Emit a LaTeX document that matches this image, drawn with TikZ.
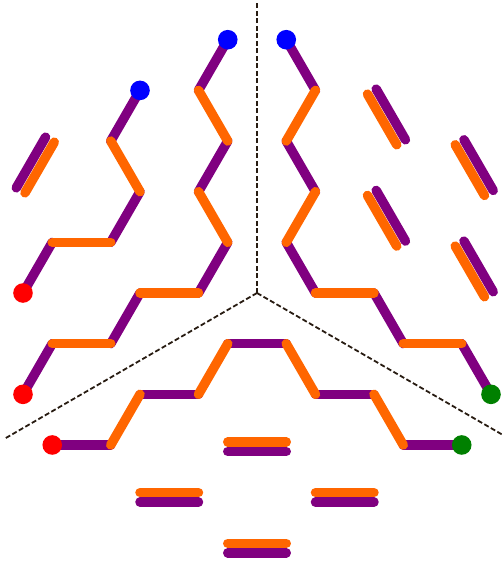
\documentclass[tikz,border=0pt]{standalone}
\definecolor{vio}{RGB}{128,0,128}
\definecolor{ora}{RGB}{255,102,0}
\definecolor{dsh}{RGB}{40,28,18}
\definecolor{dblue}{RGB}{0,0,255}
\definecolor{dred}{RGB}{255,0,0}
\definecolor{dgreen}{RGB}{0,128,0}
\begin{document}
\begin{tikzpicture}[x=58.5pt,y=-50.66pt,
  bondp/.style={draw=vio,line width=9.5pt,line cap=round},
  bondo/.style={draw=ora,line width=9.5pt,line cap=round},
  divider/.style={draw=dsh,line width=1.8pt,dash pattern=on 5pt off 2.5pt},
  enddot/.style={circle,inner sep=0pt,minimum size=19.6pt}]
\useasboundingbox (-4.3932,-5.7837) rectangle (4.1880,5.3494);

% centre and dividers
\coordinate (C) at (0,0);
\path (C) ++(90:290pt) coordinate (dtop);
\path (C) ++(210:290pt) coordinate (dleft);
\path (C) ++(330:290pt) coordinate (dright);
\draw[divider] (C) -- (dtop);
\draw[divider] (C) -- (dleft);
\draw[divider] (C) -- (dright);

% left chain A
\coordinate (A0) at (-0.5,-5);
\coordinate (A1) at (-1,-4);
\coordinate (A2) at (-0.5,-3);
\coordinate (A3) at (-1,-2);
\coordinate (A4) at (-0.5,-1);
\coordinate (A5) at (-1,0);
\coordinate (A6) at (-2,0);
\coordinate (A7) at (-2.5,1);
\coordinate (A8) at (-3.5,1);
\coordinate (A9) at (-4,2);
% left chain B
\coordinate (B0) at (-2,-4);
\coordinate (B1) at (-2.5,-3);
\coordinate (B2) at (-2,-2);
\coordinate (B3) at (-2.5,-1);
\coordinate (B4) at (-3.5,-1);
\coordinate (B5) at (-4,0);
% right chain R
\coordinate (R0) at (0.5,-5);
\coordinate (R1) at (1,-4);
\coordinate (R2) at (0.5,-3);
\coordinate (R3) at (1,-2);
\coordinate (R4) at (0.5,-1);
\coordinate (R5) at (1,0);
\coordinate (R6) at (2,0);
\coordinate (R7) at (2.5,1);
\coordinate (R8) at (3.5,1);
\coordinate (R9) at (4,2);
% bottom chain M
\coordinate (M0) at (-3.5,3);
\coordinate (M1) at (-2.5,3);
\coordinate (M2) at (-2,2);
\coordinate (M3) at (-1,2);
\coordinate (M4) at (-0.5,1);
\coordinate (M5) at (0.5,1);
\coordinate (M6) at (1,2);
\coordinate (M7) at (2,2);
\coordinate (M8) at (2.5,3);
\coordinate (M9) at (3.5,3);
% pairs
\coordinate (L1a) at (-3.5,-3); \coordinate (L1b) at (-4,-2);
\coordinate (P1a) at (2,-4);    \coordinate (P1b) at (2.5,-3);
\coordinate (P2a) at (2,-2);    \coordinate (P2b) at (2.5,-1);
\coordinate (P3a) at (3.5,-3);  \coordinate (P3b) at (4,-2);
\coordinate (P4a) at (3.5,-1);  \coordinate (P4b) at (4,0);
\coordinate (Q1a) at (-0.5,3);  \coordinate (Q1b) at (0.5,3);
\coordinate (Q2a) at (-2,4);    \coordinate (Q2b) at (-1,4);
\coordinate (Q3a) at (1,4);     \coordinate (Q3b) at (2,4);
\coordinate (Q4a) at (-0.5,5);  \coordinate (Q4b) at (0.5,5);

% purple bonds
\foreach \p/\q in {A0/A1,A2/A3,A4/A5,A6/A7,A8/A9,
                   B0/B1,B2/B3,B4/B5,
                   R0/R1,R2/R3,R4/R5,R6/R7,R8/R9,
                   M0/M1,M2/M3,M4/M5,M6/M7,M8/M9}
  \draw[bondp] (\p) -- (\q);
\draw[bondp] ([shift={(-6.7pt,3.85pt)}]L1a) -- ([shift={(-6.7pt,3.85pt)}]L1b);
\foreach \p/\q in {P1a/P1b,P2a/P2b,P3a/P3b,P4a/P4b}
  \draw[bondp] ([shift={(2.2pt,1.25pt)}]\p) -- ([shift={(2.2pt,1.25pt)}]\q);
\foreach \p/\q in {Q1a/Q1b,Q2a/Q2b,Q3a/Q3b,Q4a/Q4b}
  \draw[bondp] ([shift={(0pt,-6.5pt)}]\p) -- ([shift={(0pt,-6.5pt)}]\q);

% orange bonds
\foreach \p/\q in {A1/A2,A3/A4,A5/A6,A7/A8,
                   B1/B2,B3/B4,
                   R1/R2,R3/R4,R5/R6,R7/R8,
                   M1/M2,M3/M4,M5/M6,M7/M8}
  \draw[bondo] (\p) -- (\q);
\draw[bondo] ([shift={(2pt,-1.15pt)}]L1a) -- ([shift={(2pt,-1.15pt)}]L1b);
\foreach \p/\q in {P1a/P1b,P2a/P2b,P3a/P3b,P4a/P4b}
  \draw[bondo] ([shift={(-6.5pt,-3.75pt)}]\p) -- ([shift={(-6.5pt,-3.75pt)}]\q);
\foreach \p/\q in {Q1a/Q1b,Q2a/Q2b,Q3a/Q3b,Q4a/Q4b}
  \draw[bondo] ([shift={(0pt,3pt)}]\p) -- ([shift={(0pt,3pt)}]\q);

% end dots
\node[enddot,fill=dblue] (dA0) at (A0) {};
\node[enddot,fill=dblue] (dB0) at (B0) {};
\node[enddot,fill=dblue] (dR0) at (R0) {};
\node[enddot,fill=dred] (dA9) at (A9) {};
\node[enddot,fill=dred] (dB5) at (B5) {};
\node[enddot,fill=dred] (dM0) at (M0) {};
\node[enddot,fill=dgreen] (dR9) at (R9) {};
\node[enddot,fill=dgreen] (dM9) at (M9) {};
\end{tikzpicture}
\end{document}
